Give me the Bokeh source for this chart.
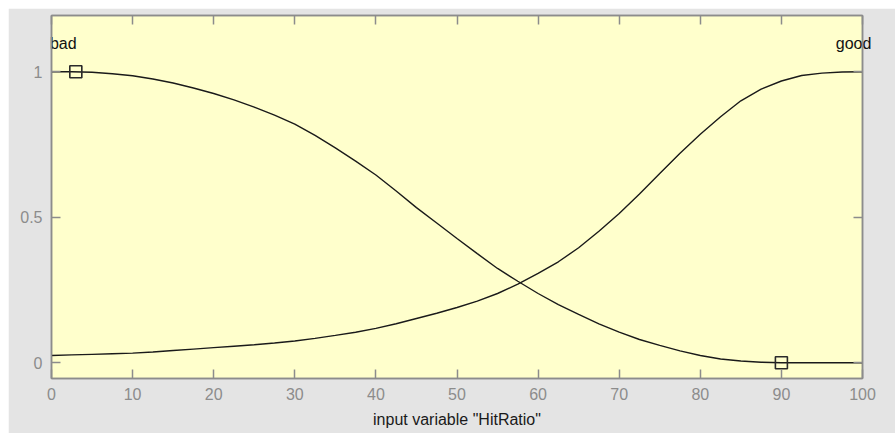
from bokeh.plotting import figure
from bokeh.models import Range1d, LinearAxis, FixedTicker, Spacer
from bokeh.layouts import column, row
from bokeh.embed import file_html
from bokeh.resources import INLINE

# ---- data ----
x_vals = [0, 2.5, 5, 7.5, 10, 12.5, 15, 17.5, 20, 22.5, 25, 27.5, 30, 32.5, 35, 37.5,
          40, 42.5, 45, 47.5, 50, 52.5, 55, 57.5, 60, 62.5, 65, 67.5, 70, 72.5, 75,
          77.5, 80, 82.5, 85, 87.5, 90, 92.5, 95, 97.5, 100]
bad_vals = [1.0, 1.0, 0.998, 0.993, 0.986, 0.975, 0.961, 0.944, 0.925, 0.903, 0.878,
            0.851, 0.82, 0.781, 0.738, 0.693, 0.645, 0.59, 0.533, 0.48, 0.427, 0.375,
            0.324, 0.28, 0.238, 0.2, 0.166, 0.134, 0.105, 0.08, 0.06, 0.041, 0.025,
            0.013, 0.006, 0.002, 0.0, 0.0, 0.0, 0.0, 0.0]
good_vals = [0.025, 0.027, 0.029, 0.031, 0.033, 0.037, 0.042, 0.047, 0.052, 0.057, 0.062,
             0.068, 0.075, 0.084, 0.094, 0.105, 0.118, 0.134, 0.152, 0.17, 0.19, 0.212,
             0.238, 0.27, 0.307, 0.347, 0.395, 0.452, 0.513, 0.58, 0.65, 0.72, 0.785,
             0.845, 0.9, 0.94, 0.968, 0.987, 0.995, 0.999, 1.0]
marker_x = [3, 90]
marker_y = [1, 0]
mf_names = ["bad", "good"]
mf_label_x = [1.45, 98.9]
x_ticks = [0, 10, 20, 30, 40, 50, 60, 70, 80, 90, 100]
y_ticks = [0, 0.5, 1]
y_tick_labels = ["0", "0.5", "1"]
x_title = 'input variable "HitRatio"'

FONT = "Liberation Sans"
GRAY_AX = "#8c8c8c"
BG = "#e4e4e4"
PLOT_BG = "#ffffcc"
LINE = "#1a1a1a"

p = figure(width=887, height=425, output_backend="svg", toolbar_location=None,
           x_range=Range1d(0, 100), y_range=Range1d(-0.054, 1.193),
           min_border_left=43, min_border_right=33, min_border_top=7, min_border_bottom=55)
p.background_fill_color = PLOT_BG
p.border_fill_color = BG
p.outline_line_color = GRAY_AX
p.outline_line_width = 1.5
p.xgrid.visible = False
p.ygrid.visible = False

p.line(x_vals, bad_vals, line_color=LINE, line_width=1.4)
p.line(x_vals, good_vals, line_color=LINE, line_width=1.4)
p.scatter(marker_x, marker_y, marker="square", size=12, fill_alpha=0,
          line_color="#2a2a2a", line_width=1.6)

def style_axis(ax, labels=True):
    ax.axis_line_color = GRAY_AX
    ax.axis_line_width = 1.5
    ax.major_tick_line_color = GRAY_AX
    ax.major_tick_line_width = 1.5
    ax.major_tick_in = 9
    ax.major_tick_out = 0
    ax.minor_tick_line_color = None
    ax.major_label_text_font = FONT
    if labels:
        ax.major_label_text_font_size = "16px"
        ax.major_label_text_color = GRAY_AX
    else:
        ax.major_label_text_font_size = "1px"
        ax.major_label_text_color = None
        ax.major_label_standoff = 0

xa = p.xaxis[0]
xa.ticker = FixedTicker(ticks=x_ticks)
style_axis(xa)
xa.major_label_standoff = 9
xa.axis_label = x_title
xa.axis_label_text_font = FONT
xa.axis_label_text_font_size = "16px"
xa.axis_label_text_font_style = "normal"
xa.axis_label_text_color = "#1a1a1a"
xa.axis_label_standoff = 8

ya = p.yaxis[0]
ya.ticker = FixedTicker(ticks=y_ticks)
ya.major_label_overrides = {t: s for t, s in zip(y_ticks, y_tick_labels)}
style_axis(ya)
ya.major_label_standoff = 9

top = LinearAxis(ticker=FixedTicker(ticks=x_ticks))
style_axis(top, labels=False)
p.add_layout(top, "above")
right = LinearAxis(ticker=FixedTicker(ticks=y_ticks))
style_axis(right, labels=False)
p.add_layout(right, "right")

# membership-function names, drawn by an axis so they are not clipped by the frame
names_axis = LinearAxis(ticker=FixedTicker(ticks=mf_label_x))
names_axis.major_label_overrides = {t: s for t, s in zip(mf_label_x, mf_names)}
names_axis.axis_line_color = None
names_axis.major_tick_line_color = None
names_axis.minor_tick_line_color = None
names_axis.major_tick_in = 0
names_axis.major_tick_out = 0
names_axis.major_label_standoff = -36
names_axis.major_label_text_font = FONT
names_axis.major_label_text_font_size = "16px"
names_axis.major_label_text_color = "#111111"
p.add_layout(names_axis, "above")

layout = column(Spacer(height=8), row(Spacer(width=8), p))
open("out.html", "w").write(file_html(layout, INLINE))
